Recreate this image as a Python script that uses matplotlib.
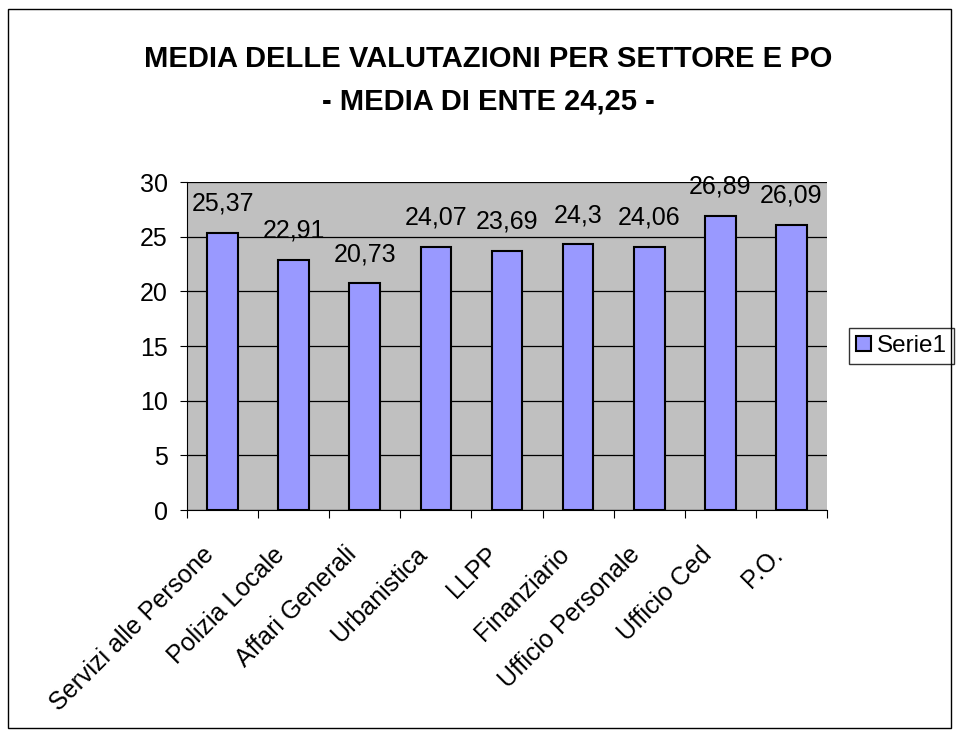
import matplotlib
matplotlib.use("Agg")
import matplotlib.pyplot as plt
from matplotlib.patches import Rectangle
from matplotlib.transforms import ScaledTranslation
import numpy as np

categories = ["Servizi alle Persone", "Polizia Locale", "Affari Generali", "Urbanistica",
              "LLPP", "Finanziario", "Ufficio Personale", "Ufficio Ced", "P.O."]
values = [25.37, 22.91, 20.73, 24.07, 23.69, 24.3, 24.06, 26.89, 26.09]
labels = ["25,37", "22,91", "20,73", "24,07", "23,69", "24,3", "24,06", "26,89", "26,09"]
yticks = [0, 5, 10, 15, 20, 25, 30]

plt.rcParams['font.family'] = ['Liberation Sans', 'DejaVu Sans']

fig = plt.figure(figsize=(9.59, 7.37), dpi=100)
fig.patches.append(Rectangle((8/959, 9/737), 943/959, 719/737, transform=fig.transFigure,
                             fill=False, edgecolor='black', linewidth=1))
ax = fig.add_axes([187/959, 1-510/737, 640/959, 328/737])
ax.set_facecolor('#C0C0C0')
x = np.arange(len(categories))
bars = ax.bar(x, values, width=0.43, color='#9999FF', edgecolor='black', linewidth=1.5,
              label='Serie1', zorder=3)
ax.set_xlim(-0.5, len(categories) - 0.5)
ax.set_ylim(0, 30)
ax.set_yticks(yticks)
ax.set_yticklabels([str(t) for t in yticks], fontsize=18)
ax.yaxis.grid(True, color='black', linewidth=0.9, zorder=1)
ax.set_axisbelow(True)
ax.set_xticks(np.arange(len(categories) + 1) - 0.5)
ax.set_xticklabels([])
ax.set_xticks(x, minor=True)
ax.set_xticklabels(categories, minor=True, rotation=45, ha='right', va='top',
                   rotation_mode='anchor', fontsize=18)
ax.tick_params(axis='x', which='minor', length=0, pad=14)
ax.tick_params(axis='x', which='major', length=6, direction='out')
ax.tick_params(axis='y', length=5, direction='out', pad=9)
shift = ScaledTranslation(-0.21, -0.13, fig.dpi_scale_trans)
for lbl in ax.get_xticklabels(minor=True):
    lbl.set_transform(lbl.get_transform() + shift)
for s in ['top', 'right']:
    ax.spines[s].set_visible(False)
for s in ['left', 'bottom']:
    ax.spines[s].set_color('black')
for xi, v, lab in zip(x, values, labels):
    ax.annotate(lab, (xi, v), xytext=(0, 16), textcoords='offset points',
                ha='center', va='baseline', fontsize=18, zorder=4)

fig.text(488/959, 1-59/737, "MEDIA DELLE VALUTAZIONI PER SETTORE E PO", ha='center', va='center',
         fontsize=21, fontweight='bold')
fig.text(488/959, 1-101/737, "- MEDIA DI ENTE 24,25 -", ha='center', va='center',
         fontsize=21, fontweight='bold')

leg = ax.legend(loc='center left', bbox_to_anchor=(849/959, 1-346/737),
                bbox_transform=fig.transFigure, fontsize=17.5, frameon=True, fancybox=False,
                edgecolor='black', handlelength=0.6, handleheight=0.6, handletextpad=0.25,
                borderpad=0.3, borderaxespad=0)
leg.get_frame().set_linewidth(1)

fig.savefig("out.png", dpi=100)
